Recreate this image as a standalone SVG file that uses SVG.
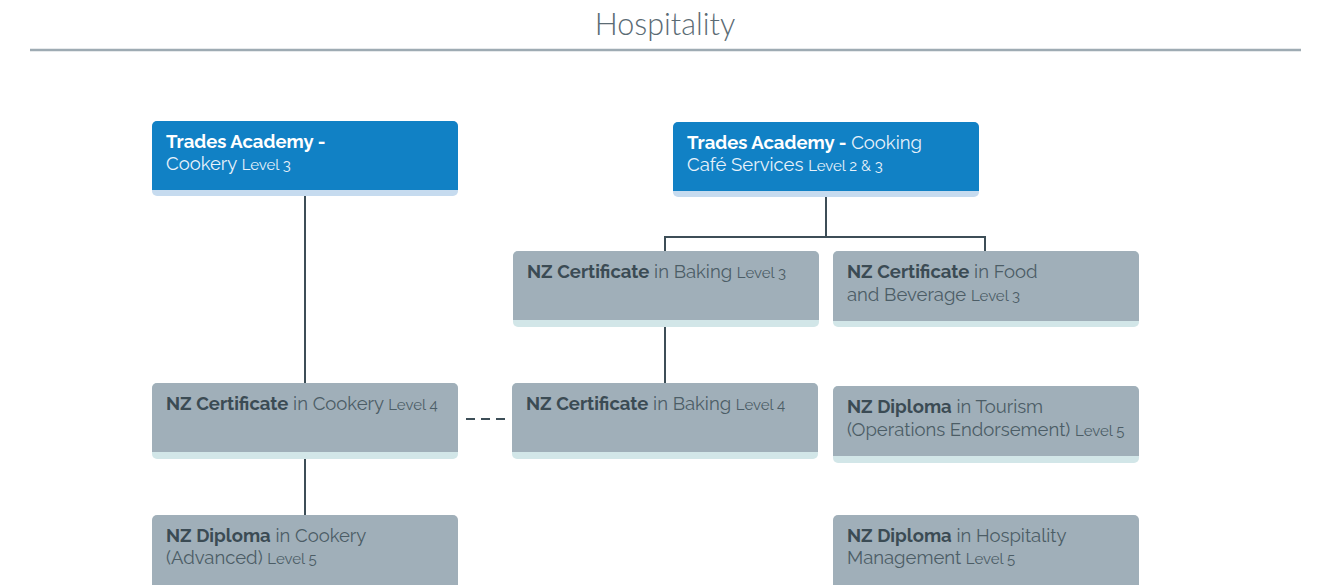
<svg xmlns="http://www.w3.org/2000/svg" width="1326" height="585" viewBox="0 0 1326 585">
<style>
.t{font-family:"Raleway","Lato","Open Sans","Liberation Sans",sans-serif;font-size:18.5px}
.b{font-weight:700}
.s{font-size:15px}
.blue .bg{fill:#1181c5}
.blue .band{fill:#c6dbef}
.blue text{fill:#e8f2fb}
.blue .b{fill:#ffffff}
.grey .bg{fill:#a0afb9}
.grey .band{fill:#d2e6e8}
.grey text{fill:#4c5d66}
.grey .b{fill:#3b4b54}
.conn{stroke:#3d4e57;stroke-width:2;fill:none}
</style>
<rect width="1326" height="585" fill="#ffffff"/>
<text x="665" y="35" text-anchor="middle" font-family="Lato,'Open Sans','Liberation Sans',sans-serif" font-size="30.5" font-weight="300" fill="#5b6b74">Hospitality</text>
<line x1="30" y1="50" x2="1301" y2="50" stroke="#9eabb3" stroke-width="2.5"/>
<g id="connectors">
<line class="conn" x1="305" y1="196" x2="305" y2="383"/>
<line class="conn" x1="305" y1="459" x2="305" y2="515"/>
<polyline class="conn" points="826,197 826,237"/>
<polyline class="conn" points="665,251 665,237 985,237 985,251"/>
<line class="conn" x1="665" y1="327" x2="665" y2="383"/>
<line class="conn" x1="466" y1="419" x2="506" y2="419" stroke-dasharray="9,6"/>
</g>
<g id="n1" class="blue">
<rect class="band" x="152" y="121" width="306" height="75" rx="5"/>
<rect class="bg" x="152" y="121" width="306" height="69" rx="5"/>
<rect class="bg" x="152" y="180" width="306" height="10"/>
<text class="t" x="166" y="148"><tspan class="b">Trades Academy -</tspan></text>
<text class="t" x="166" y="170">Cookery <tspan class="s">Level 3</tspan></text>
</g>
<g id="n2" class="blue">
<rect class="band" x="673" y="122" width="306" height="75" rx="5"/>
<rect class="bg" x="673" y="122" width="306" height="69" rx="5"/>
<rect class="bg" x="673" y="181" width="306" height="10"/>
<text class="t" x="687" y="149"><tspan class="b">Trades Academy -</tspan> Cooking</text>
<text class="t" x="687" y="171">Café Services <tspan class="s">Level 2 &amp; 3</tspan></text>
</g>
<g id="n3" class="grey">
<rect class="band" x="513" y="251" width="306" height="76" rx="5"/>
<rect class="bg" x="513" y="251" width="306" height="69" rx="5"/>
<rect class="bg" x="513" y="310" width="306" height="10"/>
<text class="t" x="527" y="278"><tspan class="b">NZ Certificate</tspan> in Baking <tspan class="s">Level 3</tspan></text>
</g>
<g id="n4" class="grey">
<rect class="band" x="833" y="251" width="306" height="76" rx="5"/>
<rect class="bg" x="833" y="251" width="306" height="70" rx="5"/>
<rect class="bg" x="833" y="311" width="306" height="10"/>
<text class="t" x="847" y="278"><tspan class="b">NZ Certificate</tspan> in Food</text>
<text class="t" x="847" y="301">and Beverage <tspan class="s">Level 3</tspan></text>
</g>
<g id="n5" class="grey">
<rect class="band" x="152" y="383" width="306" height="76" rx="5"/>
<rect class="bg" x="152" y="383" width="306" height="69" rx="5"/>
<rect class="bg" x="152" y="442" width="306" height="10"/>
<text class="t" x="166" y="410"><tspan class="b">NZ Certificate</tspan> in Cookery <tspan class="s">Level 4</tspan></text>
</g>
<g id="n6" class="grey">
<rect class="band" x="512" y="383" width="306" height="76" rx="5"/>
<rect class="bg" x="512" y="383" width="306" height="69" rx="5"/>
<rect class="bg" x="512" y="442" width="306" height="10"/>
<text class="t" x="526" y="410"><tspan class="b">NZ Certificate</tspan> in Baking <tspan class="s">Level 4</tspan></text>
</g>
<g id="n7" class="grey">
<rect class="band" x="833" y="386" width="306" height="77" rx="5"/>
<rect class="bg" x="833" y="386" width="306" height="70" rx="5"/>
<rect class="bg" x="833" y="446" width="306" height="10"/>
<text class="t" x="847" y="413"><tspan class="b">NZ Diploma</tspan> in Tourism</text>
<text class="t" x="847" y="436">(Operations Endorsement) <tspan class="s">Level 5</tspan></text>
</g>
<g id="n8" class="grey">
<rect class="bg" x="152" y="515" width="306" height="80" rx="5"/>
<text class="t" x="166" y="542"><tspan class="b">NZ Diploma</tspan> in Cookery</text>
<text class="t" x="166" y="564">(Advanced) <tspan class="s">Level 5</tspan></text>
</g>
<g id="n9" class="grey">
<rect class="bg" x="833" y="515" width="306" height="80" rx="5"/>
<text class="t" x="847" y="542"><tspan class="b">NZ Diploma</tspan> in Hospitality</text>
<text class="t" x="847" y="564">Management <tspan class="s">Level 5</tspan></text>
</g>
</svg>
